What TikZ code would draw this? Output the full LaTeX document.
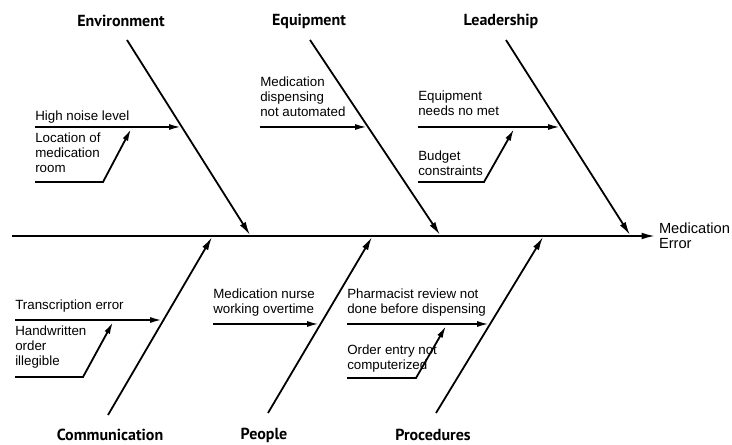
\documentclass[tikz,border=0pt]{standalone}
\usepackage{fontspec}
\setmainfont{Liberation Sans}
\newfontfamily\headfont{PT Sans}
\usetikzlibrary{arrows.meta}

\begin{document}
\begin{tikzpicture}[x=0.75pt,y=-0.75pt]
    \tikzstyle{bone}=[-{Latex[length=10pt,width=5pt]}, line width=1.35pt]
    \tikzstyle{rib}=[-{Latex[length=9pt,width=4.5pt]}, line width=1.35pt]
    \tikzstyle{cat}=[inner sep=0pt, font=\headfont\bfseries\fontsize{12}{14}\selectfont]
    \tikzstyle{cause}=[inner sep=0pt, align=left, font=\fontsize{10}{11.25}\selectfont]

    \useasboundingbox (0,0) rectangle (732,445);

    \coordinate (tail) at (12,236);
    \node[cause, anchor=west, outer sep=3pt, font=\fontsize{11}{11.5}\selectfont] (effect) at (655,236) {Medication\\Error};
    \draw[bone] (tail) -- (effect.west);

    \node[cat] (env) at (121,21) {Environment};
    \node[cat] (equip) at (309,21) {Equipment};
    \node[cat] (lead) at (501,21) {Leadership};
    \node[cat] (comm) at (110,435) {Communication};
    \node[cat] (people) at (264,435) {People};
    \node[cat] (proc) at (433,435) {Procedures};

    \coordinate (envS) at (127,40);  \coordinate (envE) at (250,235);
    \coordinate (equipS) at (310,40); \coordinate (equipE) at (440,235);
    \coordinate (leadS) at (506,40); \coordinate (leadE) at (630,235);
    \coordinate (commS) at (108,415); \coordinate (commE) at (212,237);
    \coordinate (peopleS) at (268,413); \coordinate (peopleE) at (372,237);
    \coordinate (procS) at (436,413); \coordinate (procE) at (543,237);

    \draw[bone] (envS) -- (envE);
    \draw[bone] (equipS) -- (equipE);
    \draw[bone] (leadS) -- (leadE);
    \draw[bone] (commS) -- (commE);
    \draw[bone] (peopleS) -- (peopleE);
    \draw[bone] (procS) -- (procE);

    \node[cause, anchor=south west] (noise) at (35,124) {High noise level};
    \node[cause, anchor=north west] (room) at (35,133) {Location of\\medication\\room};
    \node[cause, anchor=south west] (auto) at (260,117) {Medication\\dispensing\\not automated};
    \node[cause, anchor=south west] (needs) at (418,116) {Equipment\\needs no met};
    \node[cause, anchor=south west] (budget) at (418,176) {Budget\\constraints};
    \node[cause, anchor=south west] (transcr) at (15,313) {Transcription error};
    \node[cause, anchor=north west] (hand) at (15,326) {Handwritten\\order\\illegible};
    \node[cause, anchor=south west] (nurse) at (213,317) {Medication nurse\\working overtime};
    \node[cause, anchor=south west] (review) at (347,317) {Pharmacist review not\\done before dispensing};
    \node[cause, anchor=north west] (entry) at (347,345) {Order entry not\\computerized};

    \coordinate (noiseS) at (35,127);  \coordinate (noiseE) at (181,127);
    \coordinate (autoS) at (260,127);  \coordinate (autoE) at (367,127);
    \coordinate (needsS) at (418,127); \coordinate (needsE) at (560,127);
    \coordinate (transcrS) at (15,320); \coordinate (transcrE) at (162,320);
    \coordinate (nurseS) at (213,324); \coordinate (nurseE) at (319,324);
    \coordinate (reviewS) at (347,324); \coordinate (reviewE) at (489,324);

    \draw[rib] (noiseS) -- (noiseE);
    \draw[rib] (autoS) -- (autoE);
    \draw[rib] (needsS) -- (needsE);
    \draw[rib] (transcrS) -- (transcrE);
    \draw[rib] (nurseS) -- (nurseE);
    \draw[rib] (reviewS) -- (reviewE);

    \coordinate (roomS) at (35,182);   \coordinate (roomK) at (103,182);  \coordinate (roomE) at (131,129);
    \coordinate (budgetS) at (418,182); \coordinate (budgetK) at (484,182); \coordinate (budgetE) at (514,129);
    \coordinate (handS) at (15,377);   \coordinate (handK) at (83,377);   \coordinate (handE) at (113,322);
    \coordinate (entryS) at (347,378); \coordinate (entryK) at (416,378); \coordinate (entryE) at (446,326);

    \draw[rib] (roomS) -- (roomK) -- (roomE);
    \draw[rib] (budgetS) -- (budgetK) -- (budgetE);
    \draw[rib] (handS) -- (handK) -- (handE);
    \draw[rib] (entryS) -- (entryK) -- (entryE);
\end{tikzpicture}
\end{document}
